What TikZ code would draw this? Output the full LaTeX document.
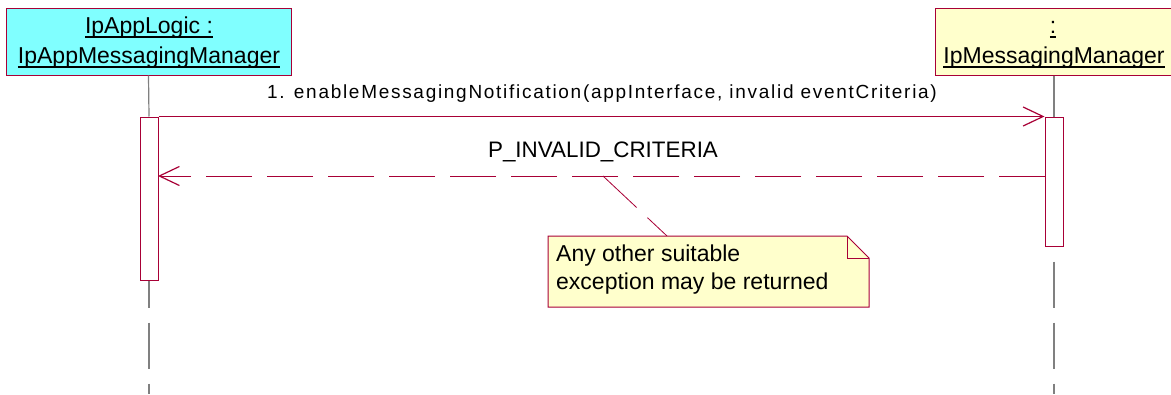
\documentclass[tikz,border=0pt]{standalone}
\usepackage{fontspec}
\setmainfont{Liberation Sans}
\newfontfamily\msgfont[LetterSpace=9]{Liberation Sans}
\usetikzlibrary{arrows.meta}
\definecolor{bd}{RGB}{168,0,54}
\definecolor{life}{RGB}{128,128,128}
\definecolor{cyanfill}{RGB}{128,255,255}
\definecolor{notefill}{RGB}{255,255,204}
\newcommand\ulx[1]{\setbox0\hbox{#1}\rlap{\rule[-4.5pt]{\wd0}{2pt}}\box0}
\tikzset{
  objbox/.style={draw=bd, line width=1pt, inner sep=0pt},
  actbox/.style={draw=bd, fill=white, line width=1pt, inner sep=0pt, minimum width=18pt},
  lifeline/.style={draw=life, line width=1.2pt},
  lifedash/.style={lifeline, dash pattern=on 46pt off 15pt},
  msg/.style={draw=bd, line width=1pt},
  tip/.style={-{Straight Barb[length=20pt,width=19pt,line width=1.2pt]}},
  txt/.style={inner sep=0pt, text=black},
  headtxt/.style={txt, font=\fontsize{23}{27}\selectfont},
  notetxt/.style={txt, font=\fontsize{23}{27}\selectfont},
  rettxt/.style={txt, font=\fontsize{22.4}{26}\selectfont},
  msgtxt/.style={txt, font=\msgfont\fontsize{19}{23}\selectfont},
}
\begin{document}
\begin{tikzpicture}[x=1pt,y=-1pt]
\useasboundingbox (0,0) rectangle (1171,394);
% object boxes
\node[objbox, fill=cyanfill, minimum width=285pt, minimum height=67pt] (appbox) at (148.5,41.5) {};
\node[objbox, fill=notefill, minimum width=238pt, minimum height=67pt] (mgrbox) at (1054,41.5) {};
\node[headtxt, anchor=base] (app1) at (149,33) {\ulx{IpAppLogic :}};
\node[headtxt, anchor=base] (app2) at (149,63) {\ulx{IpAppMessagingManager}};
\node[headtxt, anchor=base] (mgr1) at (1053,33) {\ulx{:}};
\node[headtxt, anchor=base] (mgr2) at (1054,63) {\ulx{IpMessagingManager}};
% activations
\node[actbox, minimum height=163pt] (act1) at (149,198.5) {};
\node[actbox, minimum height=129pt] (act2) at (1054,181.5) {};
% lifelines
\coordinate (append) at (149,394);
\coordinate (mgrend) at (1054,394);
\draw[lifeline] (appbox.south) -- (act1.north);
\draw[lifeline] (mgrbox.south -| act2.north) -- (act2.north);
\draw[lifedash, dash phase=19pt] (act1.south) -- (append);
\draw[lifedash, dash phase=46pt] (act2.south) -- (mgrend);
% message
\draw[msg, tip] (act1.north east) -- (act2.north west);
\node[msgtxt, anchor=base] (m1) at (602,98) {1. enableMessagingNotification(appInterface, invalid eventCriteria)};
% return
\coordinate (retstart) at (1045,176);
\coordinate (retend) at (158,176);
\draw[msg, dash pattern=on 46pt off 15pt, tip] (retstart) -- (retend);
\node[rettxt, anchor=base] (r1) at (603,157) {P\_INVALID\_CRITERIA};
% note
\coordinate (retmid) at (603,176);
\coordinate (notetop) at (667,236);
\draw[draw=bd, line width=0.8pt, dash pattern=on 46pt off 15pt] (retmid) -- (notetop);
\draw[draw=bd, fill=notefill, line width=1pt] (548,236) -- (847,236) -- (869,258) -- (869,307) -- (548,307) -- cycle;
\draw[draw=bd, line width=1pt] (847,236) -- (847,258) -- (869,258);
\node[notetxt, anchor=base west] (n1) at (556,261) {Any other suitable};
\node[notetxt, anchor=base west] (n2) at (556,289) {exception may be returned};
\end{tikzpicture}
\end{document}
